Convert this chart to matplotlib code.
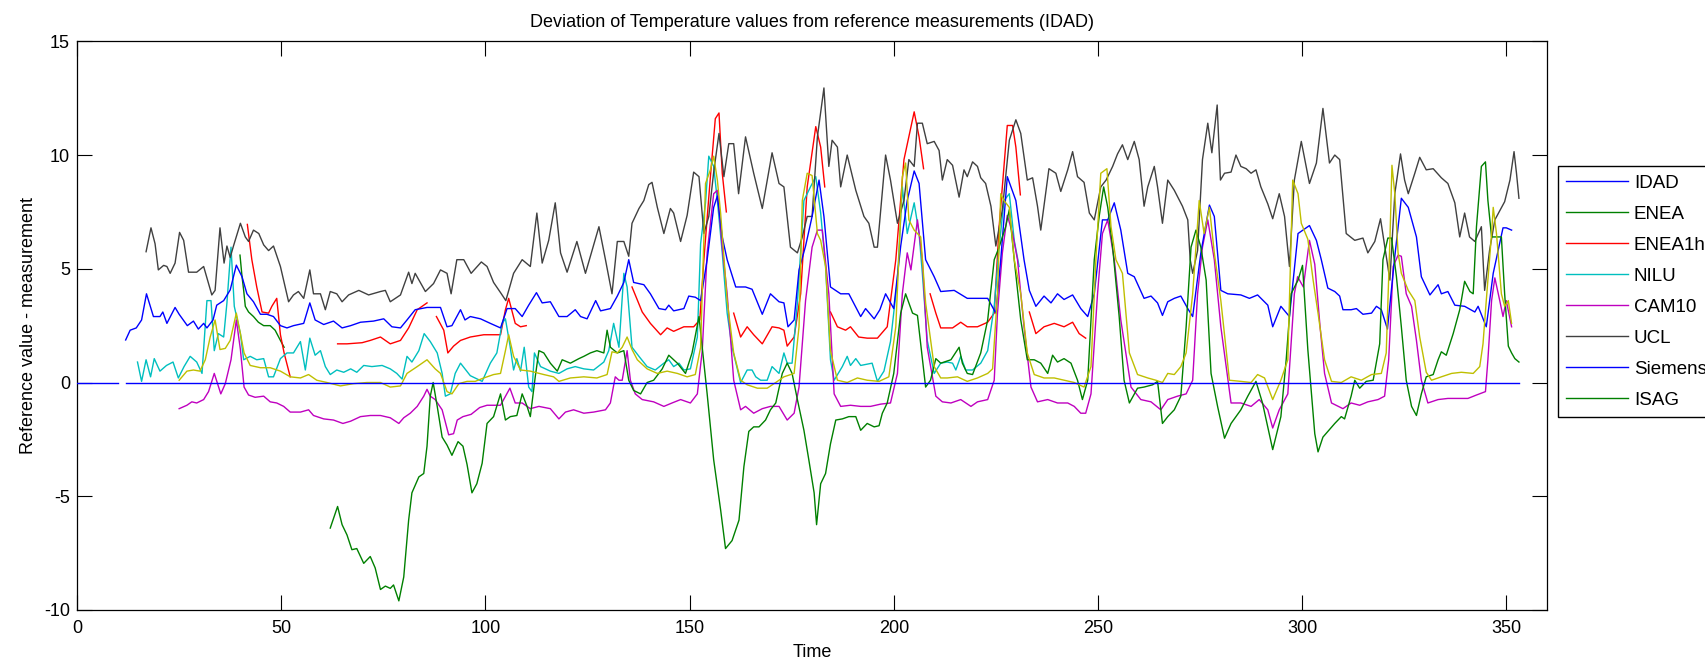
import numpy as np
import matplotlib
matplotlib.use("Agg")
import matplotlib.pyplot as plt

plt.rcParams['font.family'] = ['Liberation Sans', 'DejaVu Sans']
plt.rcParams['axes.unicode_minus'] = False

# ---- data (time, deviation) ----
idad = [(0, 0), (10, 0), (None, None), (12, 0), (353, 0)]

enea = [(39.9, 5.6), (40.4, 4.65), (40.8, 4.05), (41.2, 3.35), (42, 3.1), (43.2, 2.9),
        (44.4, 2.65), (45.7, 2.5), (47.3, 2.5), (48.5, 2.3), (49.8, 1.85), (50.7, 1.55)]

enea1h = [(41.7, 6.95), (42.8, 5.4), (44, 4.2), (45.3, 3.1), (46.9, 3.05), (47.7, 3.35), (48.9, 3.7),
          (49.8, 2.1), (50.7, 1.3), (52.2, 0.25), (None, None),
          (63.8, 1.7), (66.1, 1.7), (69.8, 1.75), (71.8, 1.85), (74.3, 2.0), (76.7, 1.7), (79.2, 1.85),
          (81.2, 2.4), (83.3, 3.2), (85.7, 3.5), (None, None),
          (88, 2.9), (89.8, 2.3), (90.8, 1.3), (92.2, 1.6), (93.9, 1.85), (96.3, 2.0), (99.6, 2.1),
          (103.7, 2.1), (104.9, 3.2), (105.7, 3.7), (107.3, 2.6), (108.6, 2.45), (110, 2.5), (None, None),
          (135.9, 4.2), (138.4, 3.1), (140.4, 2.6), (142.9, 2.1), (144.5, 2.4), (146.1, 2.25), (148.6, 2.45),
          (151, 2.45), (152.5, 2.75), (153.5, 5.4), (155.1, 9.05), (156.3, 11.6), (157.2, 11.85), (158, 9.2),
          (159, 7.5), (None, None),
          (160.8, 3.05), (162.5, 2.0), (164.1, 2.45), (165.7, 2.1), (167.8, 1.7), (170.2, 2.45), (171.9, 2.4),
          (173.1, 2.3), (173.9, 1.6), (175.6, 2.0), (177.2, 3.9), (178.8, 8.6), (180.9, 11.25), (182.1, 10.35),
          (183.1, 8.6), (None, None),
          (184.5, 3.1), (186.2, 2.45), (188.2, 2.3), (189.4, 2.45), (191.4, 2.0), (193.5, 1.95), (196, 1.95),
          (198.4, 2.45), (200.5, 5.4), (202.5, 9.8), (205, 11.9), (206.2, 10.8), (207.3, 9.4), (None, None),
          (208.9, 3.9), (210.3, 3.05), (211.5, 2.4), (214.4, 2.4), (216.4, 2.65), (218, 2.45), (220.5, 2.45),
          (223, 2.65), (224.6, 3.05), (225.8, 6.85), (227.8, 11.3), (229.1, 11.3), (229.9, 10.35), (231, 8.25),
          (None, None),
          (233.2, 3.1), (234.8, 2.15), (236.8, 2.45), (239.3, 2.6), (241.7, 2.45), (243.8, 2.65), (245.4, 2.15),
          (247, 1.95)]

nilu = [(14.8, 0.9), (15.8, 0.05), (16.9, 1.0), (18, 0.25), (18.9, 1.05), (20.3, 0.5), (21.9, 0.75),
        (23.5, 0.9), (24.8, 0.2), (26.2, 0.7), (27.7, 1.15), (29.3, 0.9), (30.6, 0.4), (31.8, 3.6), (32.8, 3.6),
        (33.6, 1.4), (34.6, 2.15), (35.9, 2.0), (36.7, 3.5), (37.7, 5.95), (38.5, 3.35), (40, 2.15), (40.8, 1.0),
        (42.4, 1.15), (44, 1.0), (45.7, 1.05), (46.9, 0.25), (48.1, 0.25), (49.8, 1.05), (51.4, 1.3), (53, 1.3),
        (54.7, 1.8), (55.9, 0.55), (57, 1.95), (58.3, 1.2), (59.6, 1.4), (60.8, 0.7), (62, 0.35), (63.6, 0.55),
        (65.3, 0.45), (67, 0.6), (68.5, 0.45), (70.2, 0.75), (72.2, 0.7), (74.7, 0.75), (76.7, 0.6), (78.3, 0.4),
        (79.6, 0.15), (80.8, 1.15), (82, 0.9), (83.7, 1.4), (85, 2.15), (86.5, 1.8), (88.2, 1.3), (89.4, 0.4),
        (90.2, -0.6), (91.4, -0.5), (92.6, 0.4), (93.9, 0.85), (96.3, 0.3), (99.2, 0.05), (101.2, 0.85),
        (102.8, 1.3), (104.1, 2.6), (104.9, 2.8), (106, 1.65), (106.9, 0.55), (107.7, 1.05), (108.6, 0.5),
        (109.5, 1.55), (110.6, -0.2), (111.4, -0.4), (112, 1.3), (113.5, 0.7), (115.9, 0.5), (118, 0.4),
        (120, 0.6), (122, 0.7), (124.1, 0.6), (126.5, 0.55), (129, 0.9), (130.2, 1.4), (131.4, 2.6),
        (132.7, 1.55), (133.9, 4.8), (134.7, 4.2), (135.9, 1.55), (137.6, 1.15), (139.6, 0.7), (141.6, 0.55),
        (143.7, 0.85), (144.9, 1.0), (146.1, 0.7), (147.4, 0.85), (148.6, 0.55), (150.2, 0.6), (151.9, 2.0),
        (152.7, 6.1), (153.9, 7.9), (154.7, 9.95), (155.9, 9.5), (156.8, 8.0), (158, 5.7), (159.2, 3.05),
        (160.4, 1.55), (162.5, 0), (164.1, 0.55), (165.3, 0.55), (166.2, 0.25), (167.4, 0.1), (169, 0.1),
        (170.2, 0.7), (171.9, 0.4), (173.1, 1.3), (173.9, 0.85), (175.1, 0.85), (176.4, 3.5), (178, 8.0),
        (179.6, 8.6), (180.9, 9.05), (182.1, 7.45), (183.3, 5.1), (184.5, 1.0), (185.4, 0.1), (187.4, 0.7),
        (188.6, 1.15), (189.4, 0.75), (190.7, 1.05), (191.9, 0.75), (194.7, 0.85), (196, 0.05), (197.6, 0.5),
        (199.2, 1.8), (200.9, 4.5), (202.1, 8.6), (203.3, 6.55), (205, 7.9), (206.2, 6.55), (207, 4.8),
        (208.2, 1.85), (209.9, 0.4), (211.5, 0.85), (213.1, 0.9), (214.4, 0.85), (215.2, 0.55), (216.4, 1.15),
        (217.6, 0.55), (219.3, 0.55), (221.3, 0.85), (223, 1.4), (224.6, 3.35), (225.8, 5.95), (227, 8.0),
        (228.3, 8.3), (229.5, 6.25), (230.7, 5.1)]

cam10 = [(25, -1.15), (26.9, -1.0), (28.1, -0.85), (29.3, -0.9), (31, -0.75), (32.2, -0.4), (33.6, 0.4),
         (34.4, -0.05), (35.2, -0.5), (36.3, -0.05), (37.7, 1.0), (39, 2.75), (40, 1.45), (40.9, -0.2),
         (42, -0.55), (43.6, -0.65), (45.7, -0.6), (47.3, -0.85), (48.9, -0.9), (50.6, -1.05), (52.2, -1.3),
         (54.7, -1.3), (56.7, -1.2), (57.9, -1.45), (60.4, -1.6), (62.8, -1.65), (65.1, -1.8), (67, -1.7),
         (69.4, -1.5), (71.8, -1.45), (74.3, -1.45), (76.7, -1.55), (78.8, -1.8), (80, -1.55), (81.6, -1.35),
         (83.3, -1.05), (84.9, -0.6), (85.7, -0.3), (86.5, -0.6), (87.7, -0.75), (89.4, -1.2), (91, -2.3),
         (92.2, -2.25), (93.1, -1.65), (94.5, -1.5), (96.5, -1.4), (98.6, -1.1), (100.4, -1.0), (103.7, -1.0),
         (106, -0.25), (107.3, -0.9), (109, -0.9), (111, -1.15), (113.1, -1.05), (115.9, -1.15), (118, -1.6),
         (119.6, -1.3), (121.6, -1.2), (124.1, -1.35), (126.5, -1.3), (129.4, -1.2), (130.6, -0.9),
         (131.8, 0.25), (132.7, 0.1), (133.5, 0.1), (134.7, 1.4), (135.5, 0.1), (136.7, -0.5), (138.4, -0.75),
         (141.2, -0.85), (143.7, -1.05), (145.7, -0.9), (147.8, -0.75), (150.2, -0.9), (151.9, -0.5),
         (153.1, 1.4), (154.3, 5.7), (155.9, 8.3), (156.8, 8.45), (158, 5.95), (159.2, 3.9), (160.8, 0.1),
         (162.5, -1.2), (163.7, -1.05), (165.7, -1.35), (167.8, -1.15), (169.8, -1.05), (171.9, -1.05),
         (173.9, -1.65), (175.6, -1.35), (176.8, -0.2), (178.4, 3.6), (180, 5.95), (181.3, 6.7), (182.5, 6.7),
         (184.1, 3.9), (185.4, -0.5), (187, -1.05), (189.4, -1.0), (191.9, -1.05), (194.3, -1.05),
         (196.8, -0.95), (199.2, -0.9), (200.9, 0.4), (202.1, 3.9), (203.3, 5.7), (204.2, 4.95), (205.8, 7.15),
         (207, 5.4), (208.2, 1.55), (210.3, -0.6), (211.9, -0.85), (214, -0.9), (216.4, -0.75), (218.9, -1.05),
         (220.5, -0.85), (223, -0.75), (224.6, 0.1), (225.4, 3.05), (226.6, 5.7), (227.8, 7.35), (229.1, 6.55),
         (230.3, 5.4), (231.9, 2.45), (233.6, -0.2), (235.2, -0.85), (237.7, -0.75), (240.1, -0.9),
         (242.6, -0.9), (244.2, -1.05), (245.8, -1.35), (247, -1.35), (248.3, -0.5), (249.9, 3.9), (251.1, 6.55),
         (252.4, 7.15), (254, 5.4), (255.6, 2.75), (258.1, -0.2), (260.5, -0.75), (263, -0.85), (265.4, -1.2),
         (267.1, -0.75), (269.5, -0.6), (271.6, -0.5), (273.2, 0.1), (274.4, 3.9), (275.6, 5.95), (276.9, 7.15),
         (278.5, 5.4), (280.1, 2.45), (282.6, -0.9), (285, -0.9), (287.5, -1.05), (289.5, -0.75), (291.6, -1.2),
         (292.8, -2.0), (294.4, -1.2), (296.5, -0.5), (298.1, 3.9), (298.9, 4.65), (300.3, 4.2), (301.8, 6.25),
         (303.1, 5.2), (304.4, 2.45), (305.5, 0.4), (307.2, -0.9), (310, -1.15), (312, -0.9), (314.1, -1.0),
         (316.1, -0.85), (318.6, -0.75), (320.2, -0.6), (321.2, 1.0), (322.3, 5.1), (323.5, 5.6), (324.3, 5.55),
         (325.5, 3.9), (326.8, 3.35), (328, 1.85), (329.2, 0.1), (330.8, -0.9), (333.3, -0.75), (335.7, -0.7),
         (338.2, -0.7), (340.6, -0.7), (342.7, -0.55), (344.9, -0.4), (345.5, 1.0), (346.4, 3.6), (347.2, 4.6),
         (348.4, 3.6), (349.2, 2.9), (350, 3.6), (351.3, 2.45)]

ucl = [(16.9, 5.75), (18.1, 6.8), (19.1, 6.1), (19.9, 4.95), (21.2, 5.15), (22, 5.1), (22.8, 4.8), (24, 5.25),
       (25.1, 6.6), (26.1, 6.25), (27.3, 4.85), (29.3, 4.85), (31, 5.1), (33, 3.85), (33.8, 4.05), (35, 6.8),
       (36, 5.25), (36.7, 6.0), (37.5, 5.5), (38.3, 6.0), (40, 7.0), (41.2, 6.4), (42, 6.2), (43.2, 6.7),
       (44.5, 6.55), (45.7, 6.05), (46.9, 5.8), (48.1, 6.0), (49.8, 5.1), (51.8, 3.55), (53, 3.85), (54.2, 4.0),
       (55.5, 3.7), (57, 4.95), (57.9, 3.9), (59.6, 3.9), (60.8, 3.2), (62, 4.0), (63.6, 3.9), (64.9, 3.55),
       (66.5, 3.85), (69, 4.05), (71.4, 3.85), (74.3, 4.0), (75.5, 4.05), (76.7, 3.55), (79.2, 3.85),
       (81.2, 4.85), (82, 4.35), (82.8, 4.8), (85.3, 4.0), (87.3, 4.35), (89, 4.95), (90.6, 4.8), (91.6, 3.9),
       (93, 5.4), (94.7, 5.4), (96.5, 4.8), (99, 5.3), (100.4, 5.1), (102, 4.4), (103.9, 3.9), (105, 3.6),
       (106.9, 4.8), (109, 5.4), (111, 5.1), (112.6, 7.45), (113.9, 5.25), (115.5, 6.25), (117.1, 7.9),
       (118.4, 5.7), (120, 4.85), (122.4, 6.2), (124.5, 4.8), (125.7, 5.55), (127.8, 6.85), (129.4, 5.4),
       (131, 3.9), (132.3, 6.2), (133.9, 6.2), (135.1, 5.55), (135.9, 7.0), (137.6, 7.65), (138.8, 8.0),
       (140, 8.7), (140.8, 8.8), (142.1, 7.7), (143.7, 6.55), (145.3, 7.65), (146.1, 7.45), (147.8, 6.2),
       (149.4, 7.35), (151, 9.25), (152.3, 9.05), (153.5, 6.55), (154.7, 7.3), (155.9, 9.25), (157.2, 10.95),
       (158.4, 9.05), (159.6, 10.5), (160.8, 10.5), (162, 8.3), (163.7, 10.8), (165.7, 9.2), (167.8, 7.65),
       (170.2, 10.1), (171.9, 8.75), (173.1, 8.6), (174.7, 5.95), (176.4, 5.7), (177.6, 6.4), (178.8, 7.3),
       (180, 7.3), (181.3, 10.8), (182.9, 12.95), (184.1, 9.5), (184.9, 10.65), (186.2, 10.35), (187, 8.6),
       (188.6, 10.0), (190.7, 8.45), (192.7, 7.3), (193.9, 7.0), (195.2, 5.95), (196, 5.95), (198, 10.0),
       (199.2, 8.9), (200.9, 7.0), (202.5, 8.0), (203.7, 9.8), (205, 9.5), (205.8, 11.4), (207, 11.4),
       (208.2, 10.5), (209.9, 10.6), (211.1, 10.2), (211.9, 8.9), (213.1, 9.8), (214.4, 9.55), (216, 8.15),
       (217.2, 9.35), (218, 9.05), (219.3, 9.7), (220.5, 9.5), (221.3, 9.0), (222.5, 8.75), (223.8, 7.75),
       (225, 6.0), (226.6, 7.6), (228.3, 10.65), (229.9, 11.55), (231.1, 10.95), (232.7, 8.9), (234, 9.0),
       (235.2, 7.75), (236, 6.7), (238, 9.4), (239.7, 9.2), (240.9, 8.4), (242.6, 9.35), (243.8, 10.15),
       (245, 9.05), (246.6, 8.8), (247.9, 7.45), (249.1, 7.15), (250.7, 8.6), (252, 8.9), (253.6, 9.5),
       (254.8, 10.05), (256, 10.45), (257.3, 9.8), (258.9, 10.6), (260.1, 9.8), (261.3, 7.75), (262.2, 8.6),
       (263.8, 9.5), (264.6, 8.6), (265.8, 7.0), (267.1, 8.9), (268.7, 8.45), (270.7, 7.75), (272, 7.15),
       (272.6, 5.4), (273.2, 4.8), (274.4, 5.8), (275.6, 9.8), (276.9, 11.4), (277.9, 10.1), (279.2, 12.2),
       (280, 8.9), (281, 9.2), (282.6, 9.25), (283.8, 10.0), (285, 9.5), (286.3, 9.4), (287.5, 9.2),
       (288.7, 9.35), (289.9, 8.6), (291.6, 7.85), (292.8, 7.2), (294.4, 8.3), (295.7, 7.3), (296.9, 5.1),
       (298.1, 8.9), (299.8, 10.6), (301.8, 8.75), (303.5, 9.65), (305.1, 12.05), (306.7, 9.65), (308, 10.0),
       (309.2, 9.8), (310.8, 6.55), (312.9, 6.25), (314.9, 6.35), (316.1, 5.7), (317.8, 6.2), (319.2, 7.2),
       (320.6, 5.55), (321.5, 4.5), (322.7, 8.3), (324.1, 10.05), (325.1, 8.9), (326, 8.3), (327.6, 9.2),
       (328.8, 9.9), (330.4, 9.35), (332.1, 9.4), (334.1, 9.0), (335.7, 8.75), (337.4, 7.9), (338.6, 6.4),
       (339.8, 7.45), (341, 6.4), (342.3, 6.2), (343.9, 6.85), (344.7, 4.05), (345.9, 5.8), (347.2, 7.15),
       (349.6, 7.95), (350.9, 8.9), (351.9, 10.15), (352.5, 9.2), (353.1, 8.1)]

siemens = [(11.9, 1.87), (13, 2.3), (14.5, 2.4), (15.8, 2.75), (17, 3.9), (18.7, 2.9), (20.3, 2.9), (21, 3.1),
           (22, 2.6), (24, 3.3), (25, 3.0), (27, 2.5), (28.5, 2.7), (29.7, 2.35), (31, 2.6), (31.8, 2.4),
           (33.3, 2.75), (34.2, 3.4), (35.9, 3.6), (37.5, 4.07), (39, 5.16), (40.4, 4.65), (41.6, 3.9),
           (43.2, 3.55), (44.9, 3.0), (46.5, 3.0), (48.1, 2.9), (49.8, 2.5), (51.4, 2.4), (53, 2.5), (55.5, 2.6),
           (57, 3.5), (58.3, 2.75), (60.4, 2.55), (62.8, 2.7), (64.9, 2.4), (67, 2.5), (69.4, 2.65), (72.6, 2.7),
           (75.1, 2.8), (77.1, 2.45), (79.2, 2.4), (80.8, 2.75), (82.8, 3.2), (85.7, 3.3), (89, 3.3),
           (90.6, 2.45), (91.8, 2.5), (93.9, 3.2), (95, 2.75), (96.3, 2.9), (98.8, 2.8), (101.2, 2.6),
           (103.7, 2.4), (105.3, 3.25), (107.3, 3.25), (109, 2.9), (110.6, 3.4), (112.5, 3.95), (113.9, 3.5),
           (115.9, 3.55), (118, 2.9), (120, 2.9), (122, 3.2), (123.3, 2.9), (124.9, 2.8), (127, 3.6),
           (128.2, 3.15), (130.6, 3.25), (132.3, 3.8), (133.9, 4.4), (135.1, 5.4), (136.3, 4.4), (138.8, 4.3),
           (140.4, 3.9), (142.5, 3.25), (144.1, 3.2), (144.9, 3.4), (146.1, 3.15), (148.6, 3.25), (149.8, 3.8),
           (151.4, 3.75), (152.7, 3.6), (154.3, 5.4), (155.9, 7.7), (156.8, 8.2), (158, 6.4), (159.2, 5.4),
           (161.3, 4.2), (163.7, 4.2), (165.3, 4.1), (167.8, 3.0), (169.8, 3.9), (171.9, 3.55), (173.1, 3.5),
           (174.1, 2.45), (175.6, 2.75), (176.8, 4.95), (178.4, 6.0), (180, 7.3), (181.7, 8.9), (182.9, 7.3),
           (184.5, 4.2), (187, 3.9), (189, 3.9), (191.9, 2.9), (193.1, 3.25), (195.2, 2.8), (196.6, 3.2),
           (198, 3.9), (200, 3.25), (201.7, 6.0), (203.3, 8.0), (205, 9.3), (206.2, 8.75), (207.8, 5.4),
           (209.9, 4.65), (211.5, 4.0), (214.8, 4.05), (218, 3.7), (220.1, 3.7), (223, 3.7), (225, 3.05),
           (226.2, 5.4), (227.8, 9.05), (229.9, 8.0), (231.9, 5.4), (233.2, 4.05), (234.8, 3.35), (236.8, 3.8),
           (238.5, 3.5), (240.1, 3.9), (241.7, 3.65), (243.8, 3.85), (245.8, 3.25), (247.5, 2.9), (249.1, 3.9),
           (251.1, 7.15), (252.4, 7.15), (254, 7.9), (255.6, 6.7), (257.3, 4.8), (258.9, 4.65), (261.3, 3.7),
           (263, 3.8), (264.6, 3.5), (265.8, 2.95), (267.1, 3.55), (268.7, 3.7), (270.3, 3.8), (272, 3.25),
           (273.2, 2.9), (275.2, 5.7), (277.3, 7.8), (278.5, 7.3), (280.1, 4.05), (281.8, 3.9), (285, 3.85),
           (287.1, 3.7), (289.1, 3.85), (291.6, 3.4), (292.8, 2.45), (294.8, 3.35), (296.9, 2.9), (299, 6.55),
           (301.8, 6.9), (303.5, 6.25), (304.7, 5.4), (306.3, 4.15), (308, 4.0), (309.2, 3.8), (310, 3.2),
           (312, 3.2), (313.3, 3.25), (314.9, 3.0), (317, 3.05), (318.2, 3.35), (319.4, 3.2), (320.9, 2.35),
           (322.7, 5.55), (324.3, 8.1), (326, 7.7), (328, 6.4), (329.2, 4.65), (331.3, 3.85), (333.3, 4.3),
           (334.1, 3.9), (335.7, 4.0), (337.4, 3.4), (339.8, 3.35), (342.3, 3.1), (343.1, 3.35), (345.1, 2.45),
           (346.8, 4.8), (349.2, 6.8), (350, 6.8), (351.3, 6.7)]

isag = [(62, -6.4), (63.8, -5.45), (64.9, -6.25), (66.1, -6.7), (67.3, -7.35), (68.5, -7.3), (70.2, -7.95),
        (71.8, -7.65), (73, -8.15), (74.3, -9.1), (75.5, -8.95), (76.7, -9.05), (77.5, -8.9), (78.8, -9.6),
        (80, -8.55), (81.2, -6.05), (82, -4.85), (83.7, -4.15), (84.9, -4.0), (85.7, -2.8), (86.5, -0.6),
        (87.2, 0), (88.2, -1.05), (89.4, -2.4), (90.6, -2.75), (91.8, -3.2), (93.3, -2.6), (94.5, -2.8),
        (95.5, -3.6), (96.7, -4.85), (97.9, -4.45), (99.2, -3.55), (100.4, -1.8), (102, -1.5), (103.7, -0.5),
        (104.9, -1.65), (106.1, -1.5), (107.7, -1.45), (109, -0.5), (110.2, -1.05), (111, -1.5), (112.2, 0.25),
        (113.1, 1.4), (114.3, 1.3), (115.9, 0.85), (117.6, 0.5), (118.8, 1.0), (120.8, 0.85), (122.9, 1.05),
        (124.1, 1.15), (125.7, 1.3), (127.3, 1.4), (129, 1.3), (129.8, 2.3), (130.6, 1.55), (132.3, 1.3),
        (133.9, 1.4), (135.1, 0.1), (136.3, -0.35), (138, -0.5), (139.6, 0), (141.2, 0.1), (143.3, 0.6),
        (144.9, 1.2), (147, 0.85), (149, 0.4), (150.6, 1.3), (152.3, 2.9), (153.1, 1.55), (154.3, -0.5),
        (155.9, -3.4), (157.6, -5.6), (158.8, -7.3), (160.4, -6.95), (162.1, -6.05), (163.3, -3.7),
        (164.5, -2.15), (165.7, -1.95), (167, -1.95), (168.6, -1.65), (169.8, -1.2), (171.1, -0.9),
        (172.7, 0.4), (173.9, 0.85), (175.1, 0.4), (176.4, -0.75), (178, -2.1), (179.2, -3.4), (180.5, -4.85),
        (181.1, -6.25), (182.1, -4.45), (183.3, -4.0), (184.5, -2.7), (185.8, -1.65), (187.4, -1.6),
        (189, -1.5), (190.7, -1.5), (191.9, -2.1), (193.5, -1.8), (195.2, -1.95), (196.4, -1.9),
        (197.2, -1.35), (198.4, -0.9), (200, 0.4), (201.7, 3.05), (202.9, 3.9), (204.6, 3.05), (205.8, 2.95),
        (206.6, 1.7), (207.8, -0.2), (209, 0.1), (210.3, 1.05), (211.5, 0.85), (214, 1.0), (216, 1.55),
        (216.8, 0.85), (218, 0.4), (219.3, 0.35), (221.3, 1.3), (223, 2.75), (224.6, 5.4), (225.8, 5.95),
        (227.4, 6.85), (228.3, 7.6), (229.5, 5.4), (231.1, 2.75), (232.7, 1.0), (234.4, 1.0), (236, 0.85),
        (237.7, 0.4), (238.9, 1.2), (240.1, 0.9), (241.7, 1.05), (243.4, 0.85), (245, 0.1), (246.2, -0.75),
        (247.5, 0.1), (249.1, 5.4), (250.3, 7.3), (251.4, 8.6), (252.4, 7.7), (253.6, 5.95), (255.2, 2.9),
        (256.4, 0.1), (257.7, -0.9), (259.7, -0.25), (261.3, -0.2), (263.4, -0.1), (264.6, 0.05),
        (265.8, -1.8), (267.1, -1.5), (268.7, -1.2), (270.3, -0.6), (271.6, 2.45), (272.8, 5.95), (274, 6.7),
        (275.2, 5.95), (276.5, 4.5), (277.7, 0.4), (279.3, -1.05), (281, -2.45), (282.6, -1.8), (285, -1.2),
        (286.7, -0.6), (288.7, 0.05), (290.3, -0.9), (292.8, -2.95), (294.8, -1.5), (296.1, 1.0), (297.3, 3.9),
        (299, 4.5), (300.1, 5.15), (301.4, 1.45), (302.3, -0.5), (303.1, -2.25), (303.9, -3.05), (305.1, -2.4),
        (306.3, -2.15), (308, -1.8), (309.6, -1.5), (310.4, -1.6), (312, -0.6), (312.9, 0.1), (314.1, -0.25),
        (315.7, 0.05), (317.4, 0.1), (319, 1.7), (319.8, 5.4), (321, 6.35), (321.9, 6.35), (323.1, 4.65),
        (324.3, 2.45), (325.5, 0.1), (326.8, -1.05), (328, -1.45), (329.2, -0.5), (330.4, 0.25), (332.1, 0.35),
        (333.3, 1.0), (334.1, 1.35), (335.3, 1.2), (337, 2.15), (338.6, 3.2), (339.8, 4.45), (341.1, 4.0),
        (341.9, 3.9), (342.7, 6.85), (343.9, 9.5), (344.9, 9.7), (345.5, 8.0), (346.4, 6.4), (347.6, 6.4),
        (348.8, 6.4), (349.6, 3.9), (350.5, 1.6), (351.3, 1.3), (352.1, 1.05), (353.1, 0.9)]

# ninth series (yellow) has no legend entry in the original
extra = [(25, 0.1), (26.9, 0.5), (28.5, 0.55), (30.1, 0.5), (31.4, 1.0), (32.6, 2.0), (33.8, 2.75), (35, 1.45),
         (36.3, 1.5), (37.5, 1.85), (39, 3.05), (40, 2.15), (40.9, 1.3), (42.4, 0.75), (44.9, 0.65),
         (47.3, 0.65), (49.8, 0.5), (52.2, 0.25), (54.7, 0.2), (56.7, 0.35), (58.7, 0.1), (61.2, 0),
         (64.5, -0.15), (67.7, -0.05), (71, 0), (74.3, 0), (76.7, -0.2), (79.2, -0.15), (80.8, 0.4), (83.3, 0.7),
         (85.7, 1.0), (87.7, 0.6), (89, 0.4), (90.6, -0.4), (91.8, -0.5), (93.5, -0.05), (95.5, 0.05),
         (97.5, 0.05), (99.6, 0.2), (102, 0.35), (103.7, 0.4), (104.9, 1.4), (105.7, 2.1), (106.9, 1.15),
         (108.6, 0.55), (111, 0.5), (114.3, 0.35), (116.7, 0.25), (118, 0.05), (120.8, 0.2), (124.1, 0.25),
         (127.3, 0.2), (129.8, 0.35), (131, 1.35), (132.3, 1.3), (133.5, 1.55), (134.7, 2.0), (135.9, 1.45),
         (137.2, 1.0), (139.6, 0.6), (142.1, 0.4), (144.5, 0.5), (147, 0.4), (149.4, 0.25), (151.4, 0.35),
         (152.7, 1.55), (153.9, 8.75), (155.1, 9.35), (155.9, 9.95), (156.8, 8.9), (157.6, 7.45), (159.2, 3.6),
         (160.8, 1.3), (162.5, 0.1), (164.1, -0.1), (166.6, -0.25), (169, -0.25), (171.1, 0), (173.1, 0.25),
         (175.6, 0.4), (176.8, 2.45), (177.6, 8.0), (178.8, 9.2), (180, 9.1), (181.3, 6.55), (182.1, 6.25),
         (183.3, 5.1), (184.5, 1.4), (186.2, 0.1), (188.6, 0), (191.1, 0.2), (193.5, 0.1), (196.4, 0.05),
         (198.8, 0.25), (200.5, 2.45), (202.1, 9.05), (202.9, 9.65), (203.7, 7.15), (205, 6.7), (206.6, 6.4),
         (207.8, 3.5), (209.9, 0.7), (211.5, 0.2), (213.1, 0.2), (215.6, 0.25), (218, 0.05), (220.5, 0.2),
         (223, 0.4), (224.2, 0.6), (225.4, 3.9), (226.2, 8.3), (227, 8.0), (228.3, 7.7), (229.5, 5.4),
         (231.1, 3.9), (232.7, 1.3), (234.4, 0.35), (236.8, 0.2), (239.3, 0.2), (241.7, 0.1), (244.2, 0),
         (246.6, -0.2), (248.3, 0.7), (249.5, 5.4), (250.7, 9.2), (252.2, 9.4), (253.2, 6.85), (254.4, 5.4),
         (256, 4.8), (257.7, 1.3), (259.7, 0.35), (262.2, 0.2), (264.2, 0.1), (265.8, 0), (267.1, 0.4),
         (268.7, 0.35), (270.3, 0.7), (271.6, 1.3), (273.2, 3.9), (274.8, 8.0), (276, 6.55), (277.3, 7.7),
         (278.5, 5.7), (280.1, 3.6), (282.2, 0.1), (285, 0.05), (287.5, 0), (289.1, 0.35), (290.8, 0.2),
         (292.8, -0.75), (294.8, 0.1), (296.5, 1.0), (297.7, 8.9), (299, 8.3), (299.8, 7.0), (301.4, 6.3),
         (302.7, 4.5), (303.9, 3.05), (305.5, 1.0), (307.2, 0.05), (309.6, 0), (312, 0.25), (314.5, 0.1),
         (317, 0.35), (319.4, 0.4), (320.6, 1.3), (321.5, 6.25), (322, 9.55), (322.7, 8.3), (323.5, 5.7),
         (324.3, 4.8), (326, 4.05), (327.6, 3.6), (328.8, 2.0), (330.4, 0.45), (331.7, 0.1), (334.1, 0.25),
         (336.6, 0.4), (339, 0.45), (341.9, 0.4), (343.5, 0.7), (344.3, 1.7), (345.1, 3.6), (346.4, 6.55),
         (346.8, 7.7), (347.6, 6.55), (348.8, 3.9), (349.6, 3.35), (350.5, 3.6), (351.3, 2.6)]

labels = ['IDAD', 'ENEA', 'ENEA1h', 'NILU', 'CAM10', 'UCL', 'Siemens', 'ISAG']


def xy(pts):
    # None pairs become NaN so the line breaks there
    arr = np.array([(np.nan if a is None else a, np.nan if b is None else b) for a, b in pts], dtype=float)
    return arr[:, 0], arr[:, 1]


fig = plt.figure(figsize=(17.05, 6.6), dpi=100)
ax = fig.add_axes([0.0452, 0.0758, 0.8622, 0.8616])

lw = 1.0
series = [(idad, (0, 0, 1), 4), (enea, (0, 0.5, 0), 2), (enea1h, (1, 0, 0), 2),
          (nilu, (0, 0.75, 0.75), 2), (cam10, (0.75, 0, 0.75), 2), (ucl, (0.25, 0.25, 0.25), 2),
          (siemens, (0, 0, 1), 2), (isag, (0, 0.5, 0), 2)]
for (pts, col, z), lab in zip(series, labels):
    t, v = xy(pts)
    ax.plot(t, v, color=col, lw=lw, label=lab, zorder=z)
t, v = xy(extra)
ax.plot(t, v, color=(0.75, 0.75, 0), lw=lw, zorder=2.5)

ax.set_xlim(0, 360)
ax.set_ylim(-10, 15)
ax.set_xticks(np.arange(0, 351, 50))
ax.set_yticks(np.arange(-10, 16, 5))
ax.tick_params(direction='in', length=11, width=0.8, top=True, right=True, labelsize=13)
ax.tick_params(axis='x', pad=7)
ax.tick_params(axis='y', pad=5)
for s in ax.spines.values():
    s.set_linewidth(0.9)

ax.set_title('Deviation of Temperature values from reference measurements (IDAD)', fontsize=13, pad=10)
ax.set_xlabel('Time', fontsize=13, labelpad=5)
ax.set_ylabel('Reference value - measurement', fontsize=13, labelpad=5)

leg = ax.legend(loc='upper left', bbox_to_anchor=(1558 / 1705, 1 - 166 / 660),
                bbox_transform=fig.transFigure, borderaxespad=0, fontsize=13.5,
                handlelength=3.3, handletextpad=0.3, labelspacing=0.74, borderpad=0.45,
                fancybox=False, framealpha=1, edgecolor='black')
leg.get_frame().set_linewidth(1.0)

plt.savefig('out.png', dpi=100)
